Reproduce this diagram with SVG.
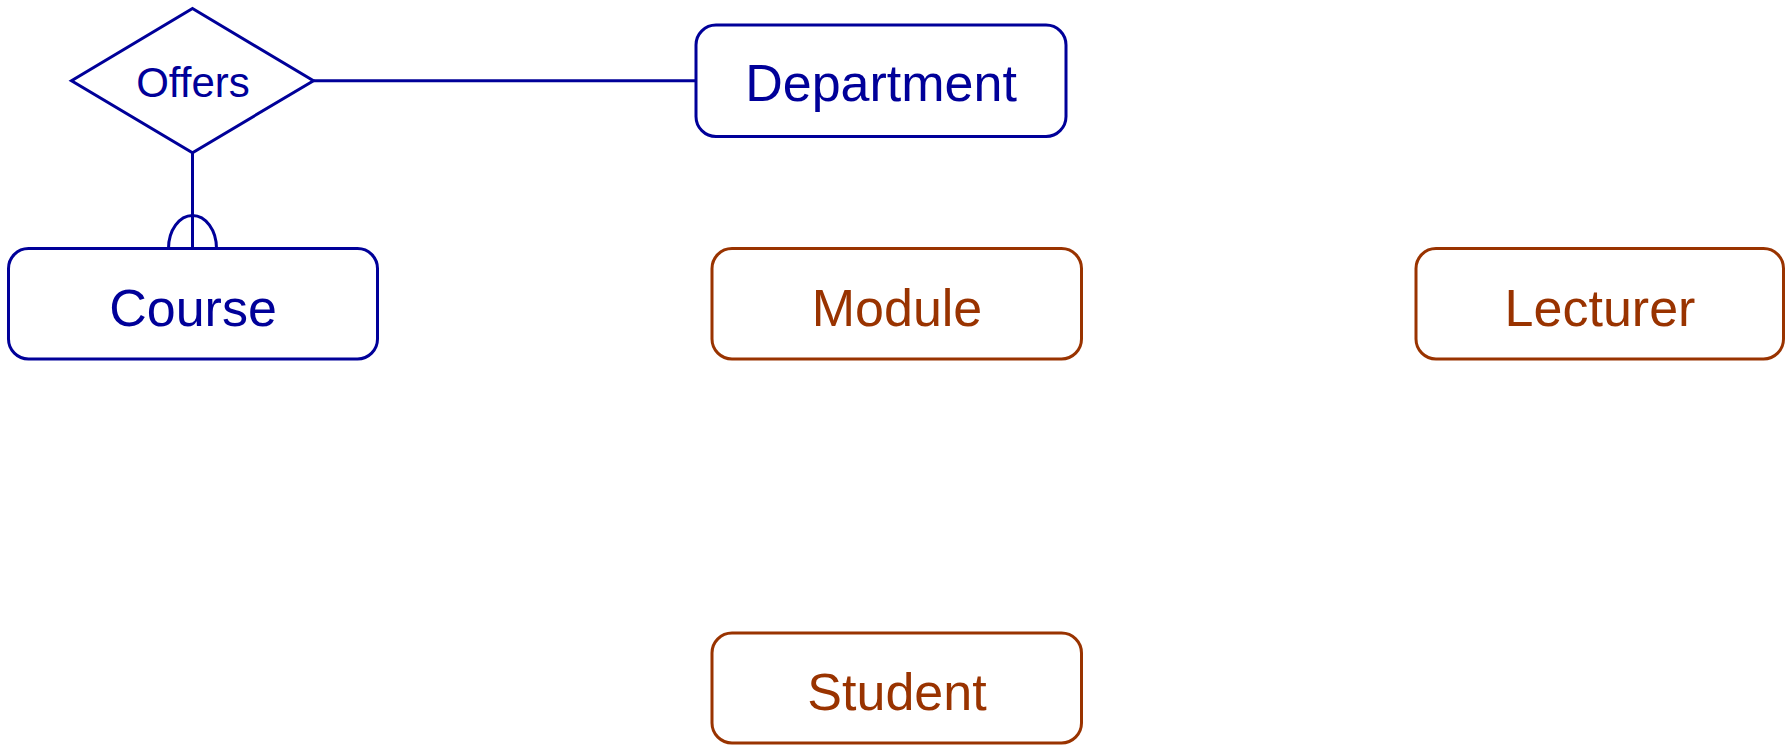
<svg xmlns="http://www.w3.org/2000/svg" width="1792" height="745" viewBox="0 0 1792 745">
<style>
.bg{fill:#ffffff}
.eb rect{fill:#ffffff;stroke:#000099;stroke-width:3}
.eo rect{fill:#ffffff;stroke:#993300;stroke-width:3}
.eb text{fill:#000099}
.eo text{fill:#993300}
text{font-family:"Liberation Sans",Arial,sans-serif;font-size:52px;text-anchor:middle}
.rel polygon{fill:#ffffff;stroke:#000099;stroke-width:3}
.rel text{fill:#000099;font-size:42px}
.conn path{fill:none;stroke:#000099;stroke-width:3}
</style>
<rect class="bg" x="0" y="0" width="1792" height="745"/>
<g id="connectors" class="conn">
<path d="M313.5,80.7 L696,80.7"/>
<path d="M192.5,152.7 L192.5,248.5"/>
<path d="M168.5,248.5 A24,33 0 0 1 216.5,248.5"/>
</g>
<g id="offers" class="rel">
<polygon points="192.5,8.5 313.5,80.7 192.5,152.7 71.5,80.7"/>
<text x="193" y="97">Offers</text>
</g>
<g id="department" class="eb">
<rect x="696" y="25" width="370" height="111.5" rx="20" ry="20"/>
<text x="881" y="100.5">Department</text>
</g>
<g id="course" class="eb">
<rect x="8.5" y="248.5" width="369" height="110.5" rx="20" ry="20"/>
<text x="193" y="325.5">Course</text>
</g>
<g id="module" class="eo">
<rect x="712" y="248.5" width="369.5" height="110.5" rx="20" ry="20"/>
<text x="897" y="325.5">Module</text>
</g>
<g id="lecturer" class="eo">
<rect x="1416" y="248.5" width="367.5" height="110.5" rx="20" ry="20"/>
<text x="1600" y="325.5">Lecturer</text>
</g>
<g id="student" class="eo">
<rect x="712" y="633" width="369.5" height="110" rx="20" ry="20"/>
<text x="897" y="709.5">Student</text>
</g>
</svg>
